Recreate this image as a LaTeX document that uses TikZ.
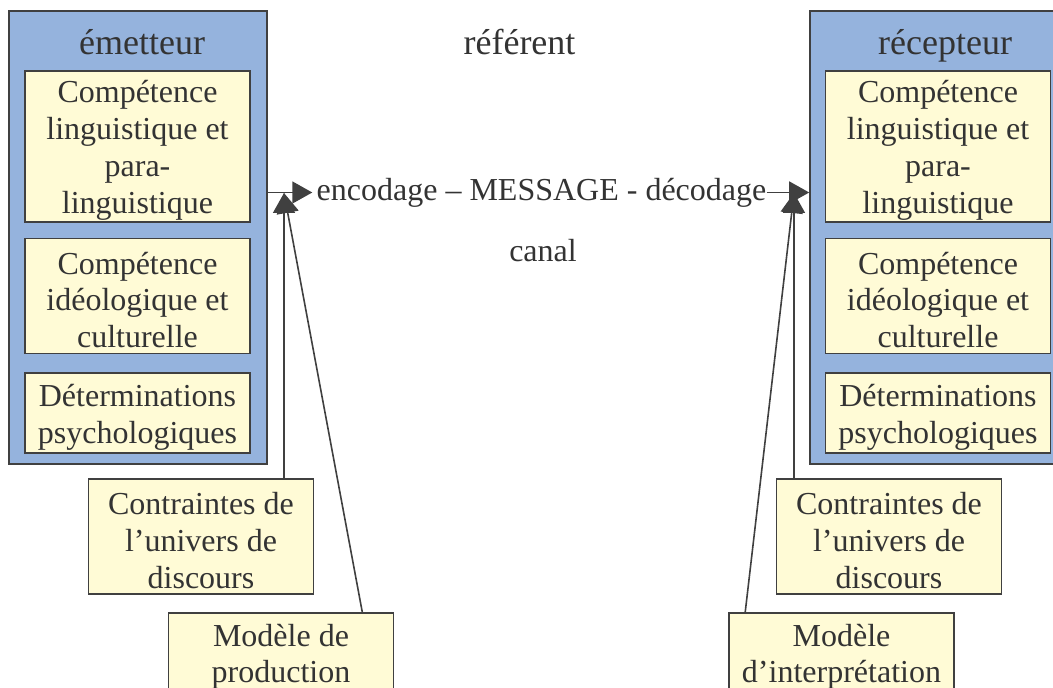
\documentclass[tikz,border=0pt]{standalone}
\usepackage{fontspec}
\setmainfont{Liberation Serif}
\usetikzlibrary{arrows.meta,positioning}
\definecolor{cbblue}{RGB}{149,179,221}
\definecolor{cbyellow}{RGB}{255,251,214}
\definecolor{cbline}{RGB}{64,64,64}
\definecolor{cbtext}{RGB}{51,51,51}
\newcommand{\topgap}{\rule{0pt}{15pt}}
\tikzstyle{actor} = [rectangle, draw=cbline, fill=cbblue, line width=0.8pt, minimum width=129pt, minimum height=226.5pt]
\tikzstyle{compbox} = [rectangle, draw=cbline, fill=cbyellow, line width=0.8pt, minimum width=112.5pt, align=center, inner sep=0pt, text=cbtext, font=\fontsize{16}{18.4}\selectfont]
\tikzstyle{title} = [text=cbtext, inner sep=0pt, font=\fontsize{18}{21}\selectfont]
\tikzstyle{plain} = [text=cbtext, inner sep=0pt, font=\fontsize{16}{18}\selectfont]
\tikzstyle{arrow} = [line width=0.8pt, draw=cbline, -{Triangle[length=10pt,width=11pt]}, color=cbline]

\begin{document}
\begin{tikzpicture}[x=0.5pt, y=-0.5pt]
\useasboundingbox (0,0) rectangle (1053,688);
\clip (0,0) rectangle (1053,688);
% emetteur
\node (sender) [actor] at (138,237.5) {};
\node (senderT) [title, anchor=base] at (142,55) {émetteur};
\node (sLing) [compbox, minimum height=75.5pt] at (137.5,146.5) {\topgap Compétence\\linguistique et\\para-\\linguistique};
\node (sIdeo) [compbox, minimum height=57.5pt, below=7.5pt of sLing] {\topgap Compétence\\idéologique et\\culturelle};
\node (sPsy) [compbox, minimum height=40pt, below=9pt of sIdeo] {\topgap Déterminations\\psychologiques};
% recepteur
\node (receiver) [actor] at (939,237.5) {};
\node (receiverT) [title, anchor=base] at (945,55) {récepteur};
\node (rLing) [compbox, minimum height=75.5pt] at (938,146.5) {\topgap Compétence\\linguistique et\\para-\\linguistique};
\node (rIdeo) [compbox, minimum height=57.5pt, below=7.5pt of rLing] {\topgap Compétence\\idéologique et\\culturelle};
\node (rPsy) [compbox, minimum height=40pt, below=9pt of rIdeo] {\topgap Déterminations\\psychologiques};
% milieu
\node (ref) [title, anchor=base] at (519.5,55) {référent};
\node (msg) [plain] at (541.5,192.5) {encodage – MESSAGE - décodage};
\node (canal) [plain, anchor=base] at (543,262) {canal};
% contraintes et modeles
\node (ctrL) [compbox, minimum height=57.5pt] at (201,536.5) {\topgap Contraintes de\\l’univers de\\discours};
\node (ctrR) [compbox, minimum height=57.5pt] at (889,536.5) {\topgap Contraintes de\\l’univers de\\discours};
\node (modL) [compbox, minimum height=40pt] at (281,653) {\topgap Modèle de\\production};
\node (modR) [compbox, minimum height=40pt] at (841.5,653) {\topgap Modèle\\d’interprétation};

\coordinate (sTip) at (284,193);
\coordinate (rTip) at (794,193);
\draw[arrow, shorten >=2pt] (msg.west -| sender.east) -- (msg.west);
\draw[arrow] (msg.east) -- (msg.east -| receiver.west);
\draw[arrow] (ctrL.north -| sTip) -- (sTip);
\draw[arrow] ([xshift=-16pt]modL.north east) -- (sTip);
\draw[arrow] (ctrR.north -| rTip) -- (rTip);
\draw[arrow] ([xshift=8.5pt]modR.north west) -- (rTip);
\end{tikzpicture}
\end{document}
